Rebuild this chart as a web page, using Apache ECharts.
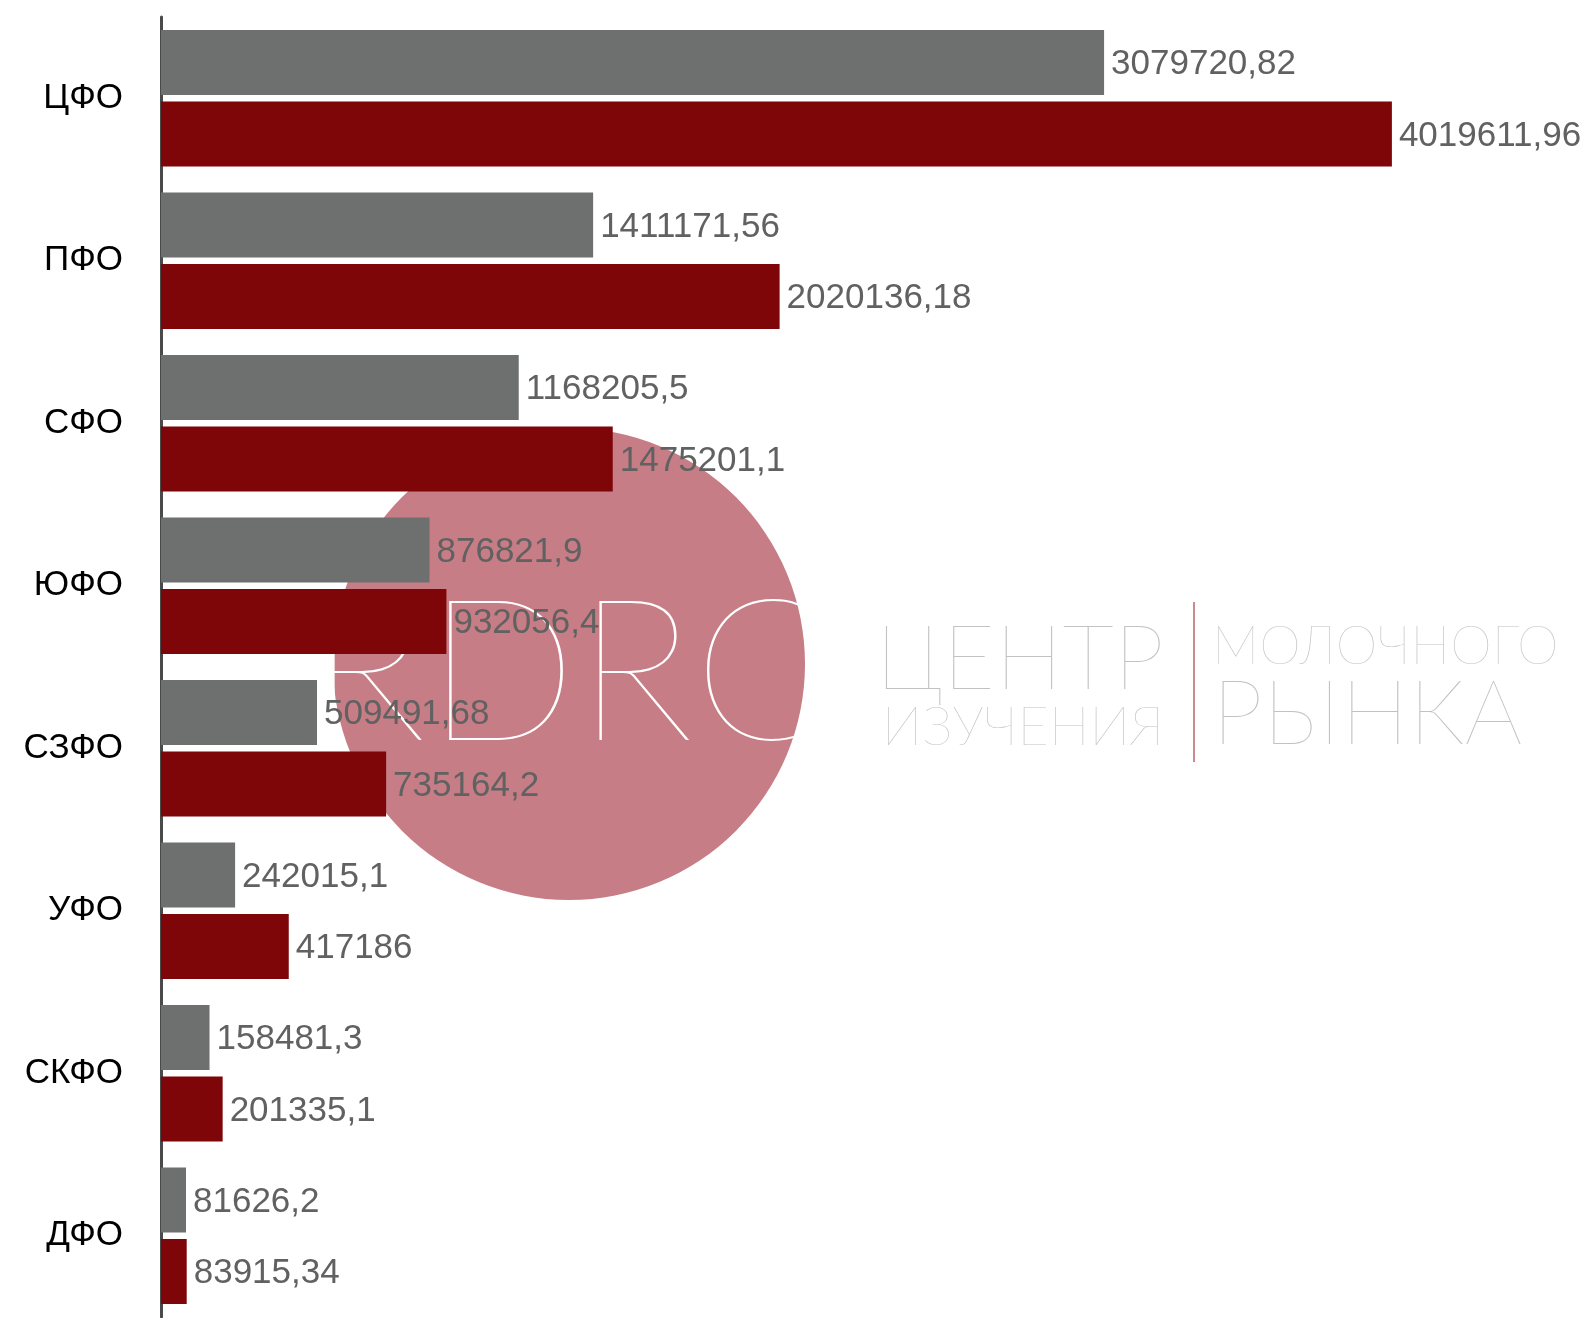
<!DOCTYPE html>
<html>
<head>
<meta charset="utf-8">
<script src="https://cdn.jsdelivr.net/npm/echarts@6/dist/echarts.min.js"></script>
<style>
  html, body { margin: 0; padding: 0; background: #fff; }
  #chart { width: 1594px; height: 1318px; }
</style>
</head>
<body>
<div id="chart"></div>
<script>
// округа сверху вниз
const districts = ['ЦФО', 'ПФО', 'СФО', 'ЮФО', 'СЗФО', 'УФО', 'СКФО', 'ДФО'];
// серые столбцы (верхние в группе)
const greyValues = [3079720.82, 1411171.56, 1168205.5, 876821.9, 509491.68, 242015.1, 158481.3, 81626.2];
// красные столбцы (нижние в группе)
const redValues = [4019611.96, 2020136.18, 1475201.1, 932056.4, 735164.2, 417186, 201335.1, 83915.34];

const fmt = (p) => String(p.value).replace('.', ',');

const labelStyle = {
  show: true,
  position: 'right',
  distance: 7,
  offset: [0, 2],
  color: '#616161',
  fontSize: 35,
  fontFamily: 'Liberation Sans, Arial, sans-serif',
  formatter: fmt,
};

const option = {
  backgroundColor: '#fff',
  animation: false,
  grid: { left: 161, right: 55, top: 17, bottom: 1 },
  xAxis: {
    type: 'value',
    min: 0,
    max: 4500000,
    show: false,
    splitLine: { show: false },
  },
  yAxis: {
    type: 'category',
    data: districts,
    inverse: true,
    axisLine: { show: true, lineStyle: { color: '#4a4a4a', width: 3 } },
    axisTick: { show: false },
    axisLabel: {
      margin: 38,
      fontSize: 35,
      color: '#000',
      fontFamily: 'Liberation Sans, Arial, sans-serif',
    },
  },
  // логотип-водяной знак под столбцами
  graphic: [
    {
      type: 'circle',
      z: 0,
      shape: { cx: 569, cy: 664, r: 236 },
      style: { fill: '#c67d85' },
    },
    {
      type: 'text',
      z: 1,
      x: 569, y: 676,
      style: {
        text: 'RDRC',
        fill: '#ffffff',
        font: '100 198px Lato, "Open Sans", sans-serif',
        align: 'center',
        verticalAlign: 'middle',
      },
    },
    {
      type: 'text',
      x: 1164, y: 660,
      style: {
        text: 'ЦЕНТР',
        fill: '#c2c2c2',
        font: '100 90px Lato, "Open Sans", sans-serif',
        align: 'right',
        verticalAlign: 'middle',
      },
    },
    {
      type: 'text',
      x: 1164, y: 728,
      style: {
        text: 'ИЗУЧЕНИЯ',
        fill: '#c2c2c2',
        font: '100 54px Lato, "Open Sans", sans-serif',
        align: 'right',
        verticalAlign: 'middle',
      },
    },
    {
      type: 'line',
      shape: { x1: 1194, y1: 602, x2: 1194, y2: 762 },
      style: { stroke: '#c98a90', lineWidth: 2 },
    },
    {
      type: 'text',
      x: 1212, y: 647,
      style: {
        text: 'МОЛОЧНОГО',
        fill: '#c2c2c2',
        font: '100 53px Lato, "Open Sans", sans-serif',
        align: 'left',
        verticalAlign: 'middle',
      },
    },
    {
      type: 'text',
      x: 1212, y: 715,
      style: {
        text: 'РЫНКА',
        fill: '#c2c2c2',
        font: '100 91px Lato, "Open Sans", sans-serif',
        align: 'left',
        verticalAlign: 'middle',
      },
    },
  ],
  series: [
    {
      type: 'bar',
      data: greyValues,
      barWidth: 65,
      barGap: '10%',
      z: 2,
      itemStyle: { color: '#6d706f' },
      label: labelStyle,
    },
    {
      type: 'bar',
      data: redValues,
      barWidth: 65,
      z: 2,
      itemStyle: { color: '#7e0508' },
      label: labelStyle,
    },
  ],
};

const chart = echarts.init(document.getElementById('chart'));
chart.setOption(option);
</script>
</body>
</html>
